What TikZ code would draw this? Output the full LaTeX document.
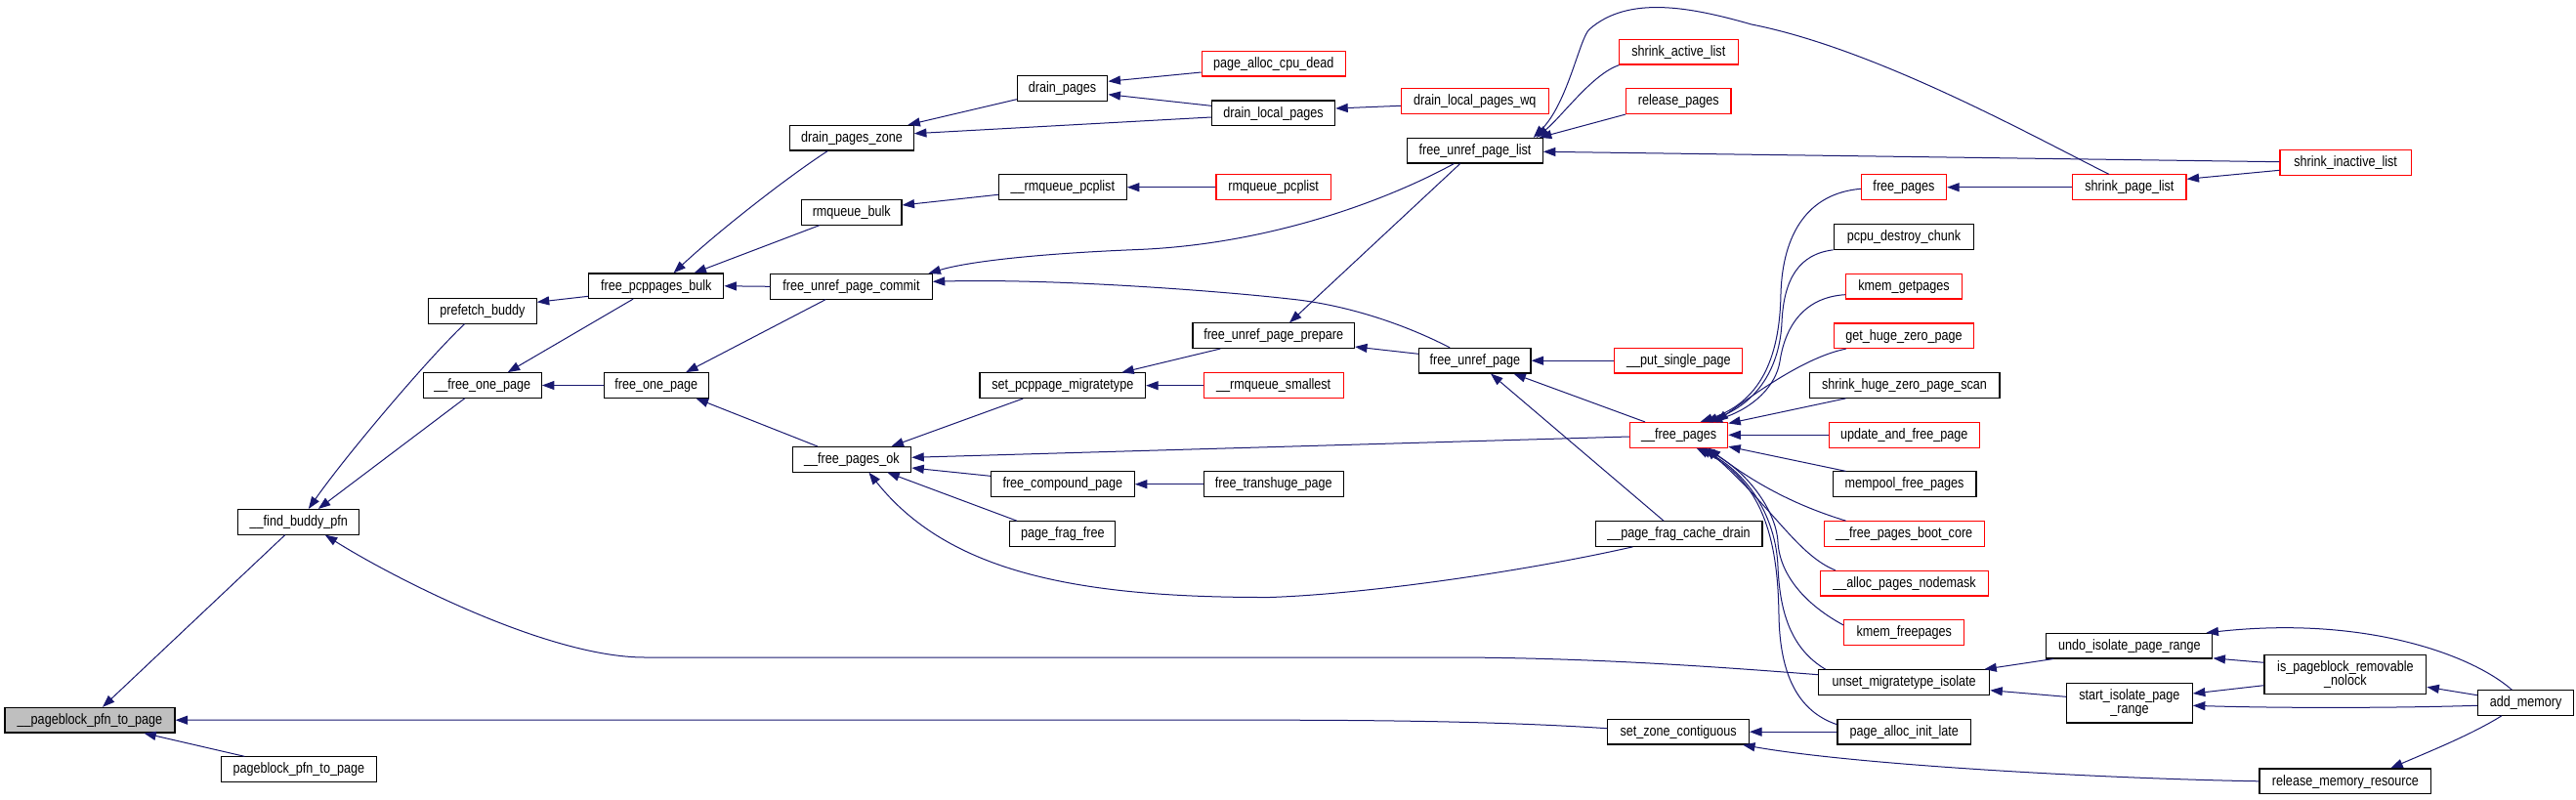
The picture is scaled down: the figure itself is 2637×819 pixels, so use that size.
\documentclass[tikz,border=0pt]{standalone}
\usepackage{fontspec}
\newfontfamily\dxfont{Liberation Sans}[FakeStretch=0.84]
\usetikzlibrary{arrows.meta}
\definecolor{navy}{HTML}{191970}
\definecolor{gfill}{HTML}{BFBFBF}
\definecolor{rline}{HTML}{FF0000}
\begin{document}
\begin{tikzpicture}[x=1pt,y=-1pt,
  basebox/.style={draw=black, line width=1.1pt, fill=white, inner sep=0pt, font=\dxfont\fontsize{15}{14}\selectfont},
  box/.style={basebox, minimum height=25.6pt, text height=11.5pt, text depth=3pt},
  rbox/.style={box, draw=rline},
  boxtwo/.style={basebox, align=center},
  cl/.style={navy, line width=1pt, -{Triangle[length=12.5pt,width=9pt]}}]
\fill[white] (0,0) rectangle (2637,819);
\useasboundingbox (0,0) rectangle (2637,819);

\node[box, fill=gfill, minimum width=174pt] (pb) at (92,737.2) {\_\_pageblock\_pfn\_to\_page};
\node[box, minimum width=158.7pt] (ppb) at (305.8,787.7) {pageblock\_pfn\_to\_page};
\node[box, minimum width=124.1pt] (fbp) at (305.8,534.3) {\_\_find\_buddy\_pfn};
\node[box, minimum width=110.6pt] (pfb) at (493.9,318.3) {prefetch\_buddy};
\node[box, minimum width=121.3pt] (fop) at (493.7,394.5) {\_\_free\_one\_page};
\node[box, minimum width=138.1pt] (fpb) at (671.8,292.8) {free\_pcppages\_bulk};
\node[box, minimum width=106.9pt] (fo) at (671.8,394.5) {free\_one\_page};
\node[box, minimum width=126.7pt] (dpz) at (872,141.2) {drain\_pages\_zone};
\node[box, minimum width=102.6pt] (rb) at (871.7,217.3) {rmqueue\_bulk};
\node[box, minimum width=165.4pt] (fupc) at (871.5,293.3) {free\_unref\_page\_commit};
\node[box, minimum width=121.6pt] (fpo) at (871.9,470.3) {\_\_free\_pages\_ok};
\node[box, minimum width=92.6pt] (dp) at (1087.6,90.3) {drain\_pages};
\node[box, minimum width=130.9pt] (rqp) at (1087.8,191.7) {\_\_rmqueue\_pcplist};
\node[box, minimum width=169.6pt] (spm) at (1087.8,394.7) {set\_pcppage\_migratetype};
\node[box, minimum width=146.9pt] (fcp) at (1087.8,495.7) {free\_compound\_page};
\node[box, minimum width=108.2pt] (pff) at (1087.8,546.5) {page\_frag\_free};
\node[rbox, minimum width=146.9pt] (pacd) at (1303.7,65.2) {page\_alloc\_cpu\_dead};
\node[box, minimum width=126.3pt] (dlp) at (1303.5,115.8) {drain\_local\_pages};
\node[rbox, minimum width=117.5pt] (rqpl) at (1303.7,191.7) {rmqueue\_pcplist};
\node[box, minimum width=165.5pt] (fupp) at (1303.7,343.7) {free\_unref\_page\_prepare};
\node[rbox, minimum width=142.7pt] (rqs) at (1303.7,394.7) {\_\_rmqueue\_smallest};
\node[box, minimum width=142.7pt] (fth) at (1303.7,495.7) {free\_transhuge\_page};
\node[rbox, minimum width=150.7pt] (dlpw) at (1509.8,103.7) {drain\_local\_pages\_wq};
\node[box, minimum width=138.5pt] (fupl) at (1510,154.2) {free\_unref\_page\_list};
\node[box, minimum width=114.4pt] (fup) at (1509.8,369.2) {free\_unref\_page};
\node[rbox, minimum width=122.5pt] (sal) at (1718.3,53.2) {shrink\_active\_list};
\node[rbox, minimum width=107.3pt] (rp) at (1718.3,103.7) {release\_pages};
\node[rbox, minimum width=130.9pt] (psp) at (1718.3,369.2) {\_\_put\_single\_page};
\node[rbox, minimum width=100.2pt] (fps) at (1718.6,445.3) {\_\_free\_pages};
\node[box, minimum width=170.9pt] (pfcd) at (1718.5,546.5) {\_\_page\_frag\_cache\_drain};
\node[box, minimum width=144.7pt] (szc) at (1718.1,749.2) {set\_zone\_contiguous};
\node[rbox, minimum width=87.2pt] (fp) at (1949,191.7) {free\_pages};
\node[box, minimum width=143.6pt] (pdc) at (1949,242.5) {pcpu\_destroy\_chunk};
\node[rbox, minimum width=119.2pt] (kgp) at (1949,293.2) {kmem\_getpages};
\node[rbox, minimum width=143.6pt] (ghzp) at (1949,343.8) {get\_huge\_zero\_page};
\node[box, minimum width=194.9pt] (shzps) at (1949.5,394.5) {shrink\_huge\_zero\_page\_scan};
\node[rbox, minimum width=154.1pt] (uafp) at (1949.2,445.3) {update\_and\_free\_page};
\node[box, minimum width=146.9pt] (mfp) at (1949.5,495.7) {mempool\_free\_pages};
\node[rbox, minimum width=164.2pt] (fpbc) at (1949.2,546.5) {\_\_free\_pages\_boot\_core};
\node[rbox, minimum width=172.2pt] (apn) at (1949.5,597.2) {\_\_alloc\_pages\_nodemask};
\node[rbox, minimum width=122.9pt] (kfp) at (1949.2,647.7) {kmem\_freepages};
\node[box, minimum width=175.1pt] (umi) at (1949.2,698.5) {unset\_migratetype\_isolate};
\node[box, minimum width=136.5pt] (pail) at (1949.2,749.2) {page\_alloc\_init\_late};
\node[rbox, minimum width=116.2pt] (spl) at (2179.9,191.7) {shrink\_page\_list};
\node[box, minimum width=170pt] (uipr) at (2179.9,661.2) {undo\_isolate\_page\_range};
\node[boxtwo, minimum width=128.8pt, minimum height=40.3pt] (sipr) at (2179.9,719.8) {start\_isolate\_page\\\_range};
\node[rbox, minimum width=134.2pt] (sil) at (2401.1,166.5) {shrink\_inactive\_list};
\node[boxtwo, minimum width=165.8pt, minimum height=40pt] (iprn) at (2400.9,690.3) {is\_pageblock\_removable\\\_nolock};
\node[box, minimum width=175.9pt] (rmr) at (2400.9,799.8) {release\_memory\_resource};
\node[box, minimum width=98.5pt] (am) at (2585.6,719.5) {add\_memory};

% edges into __pageblock_pfn_to_page
\draw[cl] ([xshift=-14pt]fbp.south) -- ([xshift=13pt]pb.north);
\draw[cl] ([xshift=-55.4pt]ppb.north) -- ([xshift=55.3pt]pb.south);
\draw[cl] ([yshift=3.5pt]szc.west) .. controls (1560,740) and (1450,737.2) .. (1300,737.2) -- (pb.east);
% into __find_buddy_pfn
\draw[cl] ([xshift=-18.3pt]pfb.south) .. controls (440,365) and (355,465) .. ([xshift=10pt]fbp.north);
\draw[cl] ([xshift=-18pt]fop.south) -- ([xshift=20pt]fbp.north);
\draw[cl] ([yshift=7.8pt]umi.west) .. controls (1750,682) and (1620,673) .. (1480,673) -- (660,673) .. controls (560,673) and (400,590) .. ([xshift=27pt]fbp.south);
% free_pcppages_bulk column
\draw[cl] ([yshift=-10.5pt]fpb.west) -- ([yshift=9pt]pfb.east);
\draw[cl] ([xshift=-23.7pt]fpb.south) -- ([xshift=26pt]fop.north);
\draw[cl] (fo.west) -- (fop.east);
\draw[cl] ([xshift=-24.7pt]dpz.south) .. controls (805,182) and (735,237) .. ([xshift=17.7pt]fpb.north);
\draw[cl] ([xshift=-32.8pt]rb.south) -- ([xshift=38.7pt]fpb.north);
\draw[cl] (fupc.west) -- (fpb.east);
\draw[cl] ([xshift=-26.3pt]fupc.south) -- ([xshift=30.3pt]fo.north);
\draw[cl] ([xshift=-35.1pt]fpo.north) -- ([xshift=40.8pt]fo.south);
% drain pages
\draw[cl] ([yshift=-11.4pt]dp.west) -- ([xshift=57.4pt]dpz.north);
\draw[cl] ([yshift=-4.2pt]dlp.west) -- ([yshift=4.5pt]dpz.east);
\draw[cl] ([yshift=-8.8pt]pacd.west) -- ([yshift=7pt]dp.east);
\draw[cl] ([yshift=7.5pt]dlp.west) -- ([yshift=-6.4pt]dp.east);
\draw[cl] ([yshift=-4.6pt]dlpw.west) -- ([yshift=4.8pt]dlp.east);
\draw[cl] ([yshift=-7.6pt]rqp.west) -- ([yshift=7.3pt]rb.east);
\draw[cl] (rqpl.west) -- (rqp.east);
% free_unref_page_commit
\draw[cl] ([xshift=-21.6pt]fupl.south) .. controls (1420,205) and (1300,250) .. (1165,255.5) .. controls (1060,259.7) and (990,268) .. ([xshift=78.9pt]fupc.north);
\draw[cl] ([xshift=-25.7pt]fup.north) .. controls (1440,333) and (1380,312) .. (1320,306) .. controls (1250,298) and (1080,285) .. ([yshift=5pt]fupc.east);
\draw[cl] ([xshift=-15.3pt]fupl.south) -- ([xshift=16.3pt]fupp.north);
\draw[cl] ([yshift=6.9pt]fup.west) -- ([yshift=-11.3pt]fupp.east);
\draw[cl] ([xshift=-54.5pt]fupp.south) -- ([xshift=60.4pt]spm.north);
\draw[cl] (rqs.west) -- (spm.east);
% __free_pages_ok
\draw[cl] ([xshift=-40.6pt]spm.south) -- ([xshift=40.6pt]fpo.north);
\draw[cl] ([yshift=-1.7pt]fps.west) -- ([yshift=2pt]fpo.east);
\draw[cl] ([yshift=8.4pt]fcp.west) -- ([yshift=-8.7pt]fpo.east);
\draw[cl] ([xshift=-46.9pt]pff.north) -- ([xshift=36.4pt]fpo.south);
\draw[cl] ([xshift=-47.1pt]pfcd.south) .. controls (1560,585) and (1400,608) .. (1300,611.5) .. controls (1100,612) and (970,585) .. ([xshift=17.5pt]fpo.south);
\draw[cl] (fth.west) -- (fcp.east);
% free_unref_page_list
\draw[cl] ([xshift=1pt]sal.south west) .. controls (1630,76) and (1600,118) .. ([xshift=-7pt]fupl.north east);
\draw[cl] (rp.south west) -- ([xshift=-4pt]fupl.north east);
\draw[cl] ([xshift=-21pt]spl.north) .. controls (2080,139) and (1920,50) .. (1793,25) .. controls (1730,7) and (1667,-5) .. (1627,30) .. controls (1617,39) and (1605,105) .. ([xshift=-10pt]fupl.north east);
\draw[cl] ([yshift=0.8pt]sil.west) -- ([yshift=-1.1pt]fupl.east);
\draw[cl] ([yshift=-7.8pt]sil.west) -- ([yshift=8.4pt]spl.east);
\draw[cl] (spl.west) -- (fp.east);
% free_unref_page
\draw[cl] (psp.west) -- (fup.east);
\draw[cl] ([xshift=-34.6pt]fps.north) -- ([xshift=39.6pt]fup.south);
\draw[cl] ([xshift=-15.5pt]pfcd.north) -- ([xshift=16.2pt]fup.south);
% __free_pages
\draw[cl] ([yshift=-1.6pt]fp.west) .. controls (1850,198) and (1825,240) .. (1823,300) .. controls (1822,370) and (1800,412) .. ([xshift=22pt]fps.north);
\draw[cl] (pdc.south west) .. controls (1842,260) and (1826,285) .. (1824,330) .. controls (1822,375) and (1800,413) .. ([xshift=27pt]fps.north);
\draw[cl] ([yshift=-8.5pt]kgp.west) .. controls (1850,304) and (1828,330) .. (1822,370) .. controls (1818,395) and (1795,418) .. ([xshift=32pt]fps.north);
\draw[cl] ([xshift=13pt]ghzp.south west) .. controls (1850,365) and (1800,400) .. ([xshift=38pt]fps.north);
\draw[cl] ([xshift=38pt]shzps.south west) -- ([yshift=-1.5pt]fps.north east);
\draw[cl] (uafp.west) -- (fps.east);
\draw[cl] ([xshift=14pt]mfp.north west) -- ([yshift=1.5pt]fps.south east);
\draw[cl] ([xshift=23pt]fpbc.north west) .. controls (1830,515) and (1790,490) .. ([xshift=30pt]fps.south);
\draw[cl] ([xshift=16pt]apn.north west) .. controls (1840,568) and (1815,520) .. ([xshift=27pt]fps.south);
\draw[cl] ([yshift=7.7pt]kfp.west) .. controls (1850,620) and (1822,590) .. (1820,555) .. controls (1818,520) and (1785,480) .. ([xshift=24pt]fps.south);
\draw[cl] ([xshift=7.5pt]umi.north west) .. controls (1835,665) and (1822,630) .. (1820,580) .. controls (1818,530) and (1790,485) .. ([xshift=21pt]fps.south);
\draw[cl] ([yshift=7.5pt]pail.west) .. controls (1840,728) and (1822,690) .. (1821,630) .. controls (1820,560) and (1808,495) .. ([xshift=18pt]fps.south);
% isolate / memory
\draw[cl] ([xshift=-78pt]uipr.south) -- ([xshift=-6pt]umi.north east);
\draw[cl] ([yshift=6.5pt]sipr.west) -- ([yshift=-8.2pt]umi.east);
\draw[cl] ([yshift=12pt]iprn.west) -- ([yshift=0.7pt]uipr.south east);
\draw[cl] ([xshift=-14.3pt]am.north) .. controls (2530,670) and (2420,630) .. ([xshift=-7pt]uipr.north east);
\draw[cl] ([yshift=-11.4pt]iprn.west) -- ([yshift=9.8pt]sipr.east);
\draw[cl] ([yshift=-2.8pt]am.west) .. controls (2450,725) and (2330,725) .. ([yshift=-2.5pt]sipr.east);
\draw[cl] ([yshift=7.8pt]am.west) -- ([yshift=-13pt]iprn.east);
\draw[cl] ([xshift=-24.8pt]am.south) .. controls (2530,752) and (2490,768) .. ([xshift=46.3pt]rmr.north);
\draw[cl] (rmr.west) .. controls (2150,797) and (1900,783) .. ([xshift=-7pt]szc.south east);
\draw[cl] (pail.west) -- (szc.east);
\end{tikzpicture}
\end{document}
